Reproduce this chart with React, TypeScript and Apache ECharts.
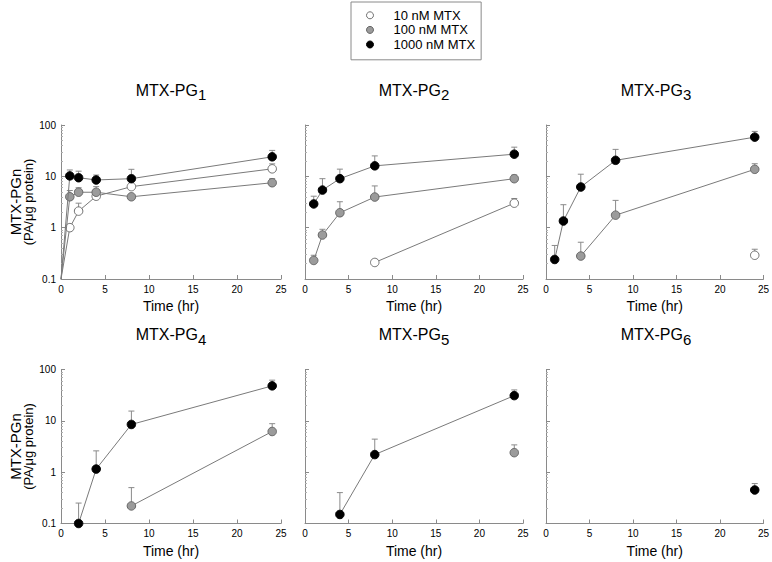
import React, { useEffect, useRef } from "react";
import * as echarts from "echarts";

// ---------- data ----------
const CONDITIONS = ["10 nM MTX", "100 nM MTX", "1000 nM MTX"];
const PANEL_SUBSCRIPTS = ["1", "2", "3", "4", "5", "6"];
const X_TICKS = [0, 5, 10, 15, 20, 25];
const Y_TICKS = [0.1, 1, 10, 100];
const X_TITLE = "Time (hr)";
const Y_TITLE_1 = "MTX-PGn";
const Y_TITLE_2 = "(PA/μg protein)";

// [time (hr), mean, upper error bar end (null = none)]
const PG1_10 = [[0, 0.1, null], [1, 1.0, null], [2, 2.1, 3.0], [4, 4.1, 5.2], [8, 6.3, 8.6], [24, 14, 17.5]];
const PG1_100 = [[0, 0.1, null], [1, 4.0, 5.3], [2, 4.9, 6.0], [4, 4.9, 6.3], [8, 4.0, null], [24, 7.5, 9.0]];
const PG1_1000 = [[0, 0.1, null], [1, 10.2, 13.3], [2, 9.4, 12.6], [4, 8.5, 10.6], [8, 9.0, 13.7], [24, 24, 32]];

const PG2_10 = [[8, 0.21, 0.24], [24, 3.0, 3.7]];
const PG2_100 = [[1, 0.23, 0.29], [2, 0.72, 0.93], [4, 1.95, 3.2], [8, 3.95, 6.5], [24, 9.0, 10.6]];
const PG2_1000 = [[1, 2.9, 4.1], [2, 5.4, 9.0], [4, 9.0, 13.8], [8, 16, 25], [24, 27, 37]];

const PG3_10 = [[24, 0.29, 0.38]];
const PG3_100 = [[4, 0.28, 0.52], [8, 1.75, 3.4], [24, 13.7, 17.6]];
const PG3_1000 = [[1, 0.24, 0.45], [2, 1.35, 2.8], [4, 6.2, 11], [8, 20.5, 33.5], [24, 58, 75]];

const PG4_10: number[][] = [];
const PG4_100 = [[8, 0.22, 0.5], [24, 6.2, 8.8]];
const PG4_1000 = [[2, 0.1, 0.25], [4, 1.15, 2.6], [8, 8.5, 15.5], [24, 48, 62]];

const PG5_10: number[][] = [];
const PG5_100 = [[24, 2.4, 3.4]];
const PG5_1000 = [[4, 0.15, 0.4], [8, 2.2, 4.4], [24, 31, 40]];

const PG6_10: number[][] = [];
const PG6_100: number[][] = [];
const PG6_1000 = [[24, 0.45, 0.6]];

const PANEL_DATA = [
  [PG1_10, PG1_100, PG1_1000],
  [PG2_10, PG2_100, PG2_1000],
  [PG3_10, PG3_100, PG3_1000],
  [PG4_10, PG4_100, PG4_1000],
  [PG5_10, PG5_100, PG5_1000],
  [PG6_10, PG6_100, PG6_1000],
];

// ---------- styling ----------
const FONT = "Liberation Sans";
const AXIS_COLOR = "#8a8a8a";
const LINE_COLOR = "#7a7a7a";
const ERR_COLOR = "#8a8a8a";
const MARKER_STYLES = [
  { color: "#ffffff", borderColor: "#6f6f6f", borderWidth: 1 },
  { color: "#9b9b9b", borderColor: "#666666", borderWidth: 1 },
  { color: "#000000", borderColor: "#000000", borderWidth: 1 },
];
const COL_LEFT = [61, 305, 546];
const COL_WIDTH = [220, 218, 220];
const ROW_TOP = [125, 369.5];
const PLOT_H = 154;

export default function App() {
  const ref = useRef<HTMLDivElement>(null);

  useEffect(() => {
    if (!ref.current) return;
    const chart = echarts.init(ref.current, null, { renderer: "svg" });

    const grid: any[] = [];
    const xAxis: any[] = [];
    const yAxis: any[] = [];
    const series: any[] = [];
    const graphic: any[] = [];

    PANEL_DATA.forEach((panel, i) => {
      const col = i % 3;
      const row = Math.floor(i / 3);
      const left = COL_LEFT[col];
      const top = ROW_TOP[row];
      const width = COL_WIDTH[col];
      grid.push({ left, top, width, height: PLOT_H, containLabel: false });

      xAxis.push({
        type: "value",
        gridIndex: i,
        min: X_TICKS[0],
        max: X_TICKS[X_TICKS.length - 1],
        interval: X_TICKS[1] - X_TICKS[0],
        name: X_TITLE,
        nameLocation: "middle",
        nameGap: 20,
        nameTextStyle: { fontSize: 14, fontFamily: FONT, color: "#000" },
        axisLine: { show: true, lineStyle: { color: AXIS_COLOR, width: 1 } },
        axisTick: { show: true, inside: true, length: 4, lineStyle: { color: AXIS_COLOR } },
        axisLabel: { show: true, margin: 5, fontSize: 10, fontFamily: FONT, color: "#000" },
        splitLine: { show: false },
      });

      yAxis.push({
        type: "log",
        logBase: 10,
        gridIndex: i,
        min: Y_TICKS[0],
        max: Y_TICKS[Y_TICKS.length - 1],
        axisLine: { show: true, lineStyle: { color: AXIS_COLOR, width: 1 } },
        axisTick: { show: true, inside: true, length: 4, lineStyle: { color: AXIS_COLOR } },
        minorTick: { show: true, splitNumber: 9, length: 2, lineStyle: { color: "#b0b0b0" } },
        axisLabel: {
          show: col === 0,
          margin: 5,
          fontSize: 10,
          fontFamily: FONT,
          color: "#000",
          formatter: (v: number) => String(v),
        },
        splitLine: { show: false },
        minorSplitLine: { show: false },
      });

      panel.forEach((d, c) => {
        if (!d || d.length === 0) return;
        series.push({
          name: CONDITIONS[c],
          type: "custom",
          xAxisIndex: i,
          yAxisIndex: i,
          z: 1,
          silent: true,
          data: d.filter((p) => p[2] != null).map((p) => [p[0], p[1], p[2]]),
          encode: { x: 0, y: [1, 2] },
          renderItem: (_params: any, api: any) => {
            const p = api.coord([api.value(0), api.value(1)]);
            const t = api.coord([api.value(0), api.value(2)]);
            return {
              type: "group",
              children: [
                { type: "line", shape: { x1: p[0], y1: p[1], x2: t[0], y2: t[1] }, style: { stroke: ERR_COLOR, lineWidth: 1 } },
                { type: "line", shape: { x1: t[0] - 3, y1: t[1], x2: t[0] + 3, y2: t[1] }, style: { stroke: ERR_COLOR, lineWidth: 1 } },
              ],
            };
          },
        });
        series.push({
          name: CONDITIONS[c],
          type: "line",
          xAxisIndex: i,
          yAxisIndex: i,
          z: 3 + c,
          symbol: "circle",
          symbolSize: 8.5,
          showAllSymbol: true,
          clip: false,
          itemStyle: MARKER_STYLES[c],
          lineStyle: { color: LINE_COLOR, width: 1 },
          emphasis: { disabled: true },
          data: d.map((p) =>
            p[0] === 0 ? { value: [p[0], p[1]], symbol: "none" } : [p[0], p[1]]
          ),
        });
      });

      // panel title with subscript
      graphic.push({
        type: "text",
        x: left + width / 2,
        y: top - 33,
        style: {
          text: `{m|MTX-PG}{s|${PANEL_SUBSCRIPTS[i]}}`,
          align: "center",
          verticalAlign: "middle",
          rich: {
            m: { fontSize: 16, fontFamily: FONT, fill: "#000", lineHeight: 20, verticalAlign: "top" },
            s: { fontSize: 15, fontFamily: FONT, fill: "#000", lineHeight: 17, verticalAlign: "bottom", padding: [5, 0, 0, 0] },
          },
        },
      });

      if (col === 0) {
        const cy = top + PLOT_H / 2;
        graphic.push({
          type: "text",
          x: 15,
          y: cy,
          rotation: Math.PI / 2,
          style: { text: Y_TITLE_1, fontSize: 15, fontFamily: FONT, fill: "#000", align: "center", verticalAlign: "middle" },
        });
        graphic.push({
          type: "text",
          x: 28.5,
          y: cy,
          rotation: Math.PI / 2,
          style: { text: Y_TITLE_2, fontSize: 13, fontFamily: FONT, fill: "#000", align: "center", verticalAlign: "middle" },
        });
      }
    });

    chart.setOption({
      animation: false,
      backgroundColor: "#ffffff",
      legend: {
        orient: "vertical",
        left: 351,
        top: 2,
        padding: [6, 6, 8, 15],
        itemGap: 0,
        itemWidth: 7,
        itemHeight: 7,
        borderColor: "#8a8a8a",
        borderWidth: 1,
        selectedMode: false,
        textStyle: { fontSize: 13, fontFamily: FONT, color: "#000", lineHeight: 14.6, padding: [0, 0, 0, 15] },
        data: CONDITIONS.map((name, c) => ({ name, icon: "circle", itemStyle: MARKER_STYLES[c] })),
      },
      grid,
      xAxis,
      yAxis,
      series,
      graphic,
    });

    return () => chart.dispose();
  }, []);

  return (
    <div
      ref={ref}
      style={{ position: "fixed", left: 0, top: 0, width: 772, height: 562, background: "#fff" }}
    />
  );
}
